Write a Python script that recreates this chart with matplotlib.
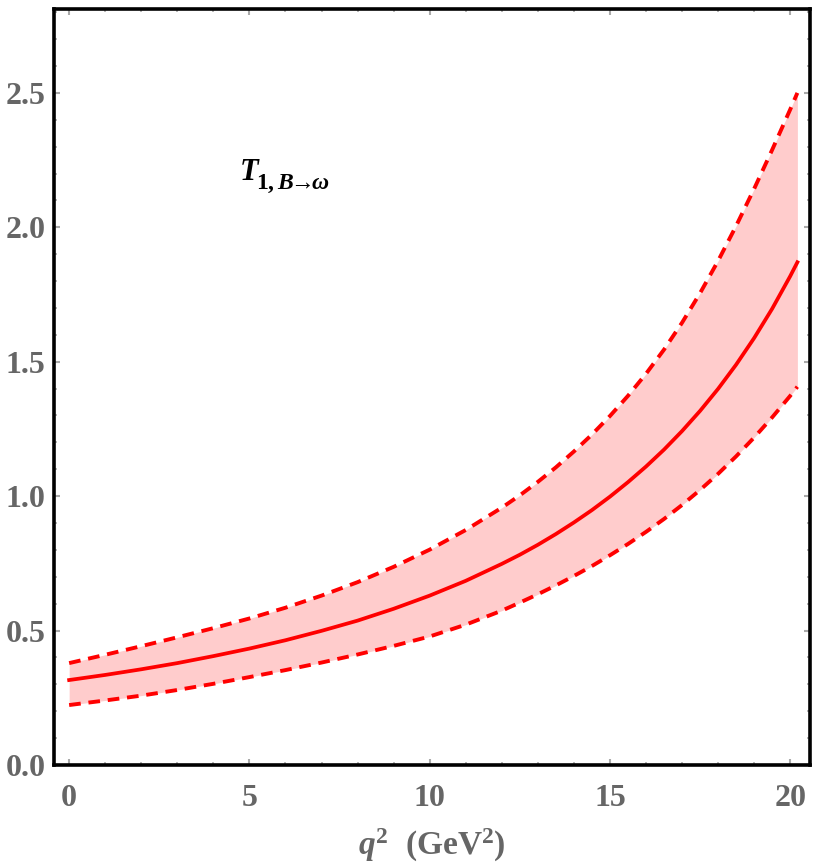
import matplotlib
matplotlib.use("Agg")
import matplotlib.pyplot as plt
from matplotlib.ticker import MultipleLocator

# values
q2 = [0, 1, 2, 3, 4, 5, 6, 7, 8, 9, 10, 11, 12, 12.5, 13, 13.5, 14, 14.5, 15, 15.5,
      16, 16.5, 17, 17.5, 18, 18.5, 19, 19.5, 20, 20.2]
t1_central = [0.316, 0.335, 0.356, 0.379, 0.405, 0.433, 0.464, 0.499, 0.537, 0.581, 0.630,
              0.685, 0.748, 0.782, 0.819, 0.859, 0.902, 0.948, 0.998, 1.052,
              1.110, 1.173, 1.242, 1.317, 1.399, 1.489, 1.588, 1.697, 1.818, 1.870]
t1_upper = [0.379, 0.410, 0.442, 0.475, 0.509, 0.545, 0.585, 0.630, 0.680, 0.737, 0.801,
            0.874, 0.957, 1.003, 1.053, 1.107, 1.166, 1.229, 1.298, 1.373,
            1.455, 1.545, 1.645, 1.755, 1.875, 2.005, 2.143, 2.288, 2.438, 2.500]
t1_lower = [0.223, 0.240, 0.258, 0.279, 0.302, 0.327, 0.353, 0.381, 0.411, 0.443, 0.478,
            0.522, 0.574, 0.604, 0.635, 0.668, 0.703, 0.740, 0.780, 0.822,
            0.867, 0.915, 0.967, 1.023, 1.083, 1.148, 1.218, 1.293, 1.373, 1.407]

plt.rcParams['mathtext.fontset'] = 'custom'
plt.rcParams['mathtext.rm'] = 'Liberation Serif:bold'
plt.rcParams['mathtext.it'] = 'Liberation Serif:italic:bold'
plt.rcParams['mathtext.bf'] = 'Liberation Serif:bold'

grey = '#666666'
red = '#ff0000'

fig = plt.figure(figsize=(8.21, 8.68), dpi=100)
ax = fig.add_axes([54 / 821, 103 / 868, 756 / 821, 756 / 868])

ax.fill_between(q2, t1_lower, t1_upper, color='#ffcccc', linewidth=0)
ax.plot(q2, t1_central, color=red, linewidth=2.7)
ax.plot(q2, t1_upper, color=red, linewidth=2.8, dashes=(3.0, 2.0))
ax.plot(q2, t1_lower, color=red, linewidth=2.8, dashes=(3.0, 2.0))

ax.set_xlim(-0.42, 20.55)
ax.set_ylim(0, 2.812)

ax.xaxis.set_major_locator(MultipleLocator(5))
ax.xaxis.set_minor_locator(MultipleLocator(1))
ax.yaxis.set_major_locator(MultipleLocator(0.5))
ax.yaxis.set_minor_locator(MultipleLocator(0.1))
ax.yaxis.set_major_formatter(plt.FormatStrFormatter('%.1f'))

ax.tick_params(which='both', direction='in', top=True, right=True, color='#aaaaaa')
ax.tick_params(which='major', length=4, width=1.5)
ax.tick_params(which='minor', length=2.5, width=1.2)
ax.tick_params(axis='x', which='major', pad=14)
ax.tick_params(axis='y', which='major', pad=6)

for lab in ax.get_xticklabels() + ax.get_yticklabels():
    lab.set_fontfamily('Liberation Serif')
    lab.set_fontweight('bold')
    lab.set_fontsize(23)
    lab.set_color(grey)

for sp in ax.spines.values():
    sp.set_linewidth(2.6)
    sp.set_color('black')

ax.set_xlabel(r'$q^{2}$  (GeV$^{2}$)', fontfamily='Liberation Serif', fontweight='bold',
              fontsize=24, color=grey, labelpad=10)

# form factor label: big T plus a separate, larger-than-usual subscript
t_lab = ax.text(4.72, 2.207, r'$T$', fontsize=22, color='black', ha='left', va='center')
ax.annotate(r'$1,B\!\!\rightarrow\!\!\omega$', xy=(1.0, 0.0), xycoords=t_lab,
            xytext=(-3.5, -2), textcoords='offset points',
            fontsize=17, color='black', ha='left', va='baseline')

fig.savefig('out.png', dpi=100)
